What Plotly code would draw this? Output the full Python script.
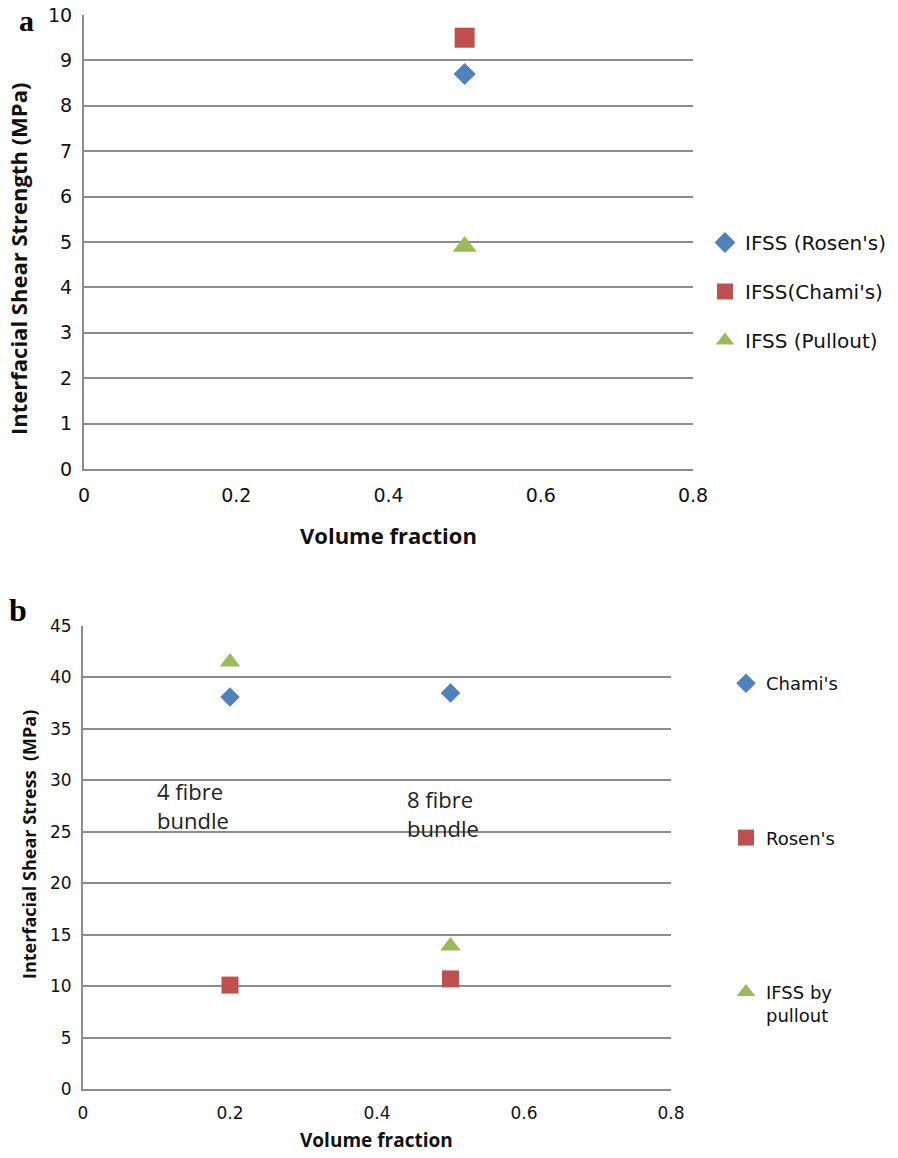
import plotly.graph_objects as go

# ---- data: panel a ----
a_x = [0.5]
a_rosen = [8.7]
a_chami = [9.5]
a_pullout = [4.9]
a_names = ["IFSS (Rosen's)", "IFSS(Chami's)", "IFSS (Pullout)"]

# ---- data: panel b ----
b_x = [0.2, 0.5]
b_chami = [38.1, 38.5]
b_rosen = [10.1, 10.7]
b_pullout = [41.5, 13.9]
b_names = ["Chami's", "Rosen's", "IFSS by<br>pullout"]
b_notes = ["4 fibre<br>bundle", "8 fibre<br>bundle"]
b_note_x = [0.098, 0.438]
b_note_y = [27.6, 26.8]

x_ticks = [0, 0.2, 0.4, 0.6, 0.8]
x_ticktext = ["0", "0.2", "0.4", "0.6", "0.8"]
a_yticks = list(range(0, 11))
b_yticks = list(range(0, 46, 5))

BLUE = "#4F81BD"
RED = "#C0504D"
GREEN = "#9BBB59"
GRID = "#8c8c8c"
TXT = "#111111"
TICKFONT = "DejaVu Sans"
TITLEFONT = "Open Sans"

fig = go.Figure()

# panel a
fig.add_trace(go.Scatter(x=a_x, y=a_rosen, mode="markers", name=a_names[0],
                         marker=dict(symbol="diamond", size=17, color=BLUE, line=dict(width=0)),
                         xaxis="x", yaxis="y", legend="legend", legendgroup="a1"))
fig.add_trace(go.Scatter(x=a_x, y=a_chami, mode="markers", name=a_names[1],
                         marker=dict(symbol="square", size=20, color=RED, line=dict(width=0)),
                         xaxis="x", yaxis="y", legend="legend", legendgroup="a2"))
fig.add_trace(go.Scatter(x=a_x, y=a_pullout, mode="markers", name=a_names[2],
                         marker=dict(symbol="triangle-up", size=21, color=GREEN, line=dict(width=0)),
                         xaxis="x", yaxis="y", legend="legend", legendgroup="a3"))

# panel b
fig.add_trace(go.Scatter(x=b_x, y=b_chami, mode="markers", name=b_names[0],
                         marker=dict(symbol="diamond", size=15, color=BLUE, line=dict(width=0)),
                         xaxis="x2", yaxis="y2", legend="legend2", legendgroup="b1"))
fig.add_trace(go.Scatter(x=b_x, y=b_rosen, mode="markers", name=b_names[1],
                         marker=dict(symbol="square", size=17, color=RED, line=dict(width=0)),
                         xaxis="x2", yaxis="y2", legend="legend2", legendgroup="b2"))
fig.add_trace(go.Scatter(x=b_x, y=b_pullout, mode="markers", name=b_names[2],
                         marker=dict(symbol="triangle-up", size=18, color=GREEN, line=dict(width=0)),
                         xaxis="x2", yaxis="y2", legend="legend2", legendgroup="b3"))


def xaxis_style(domain, anchor, fsize):
    return dict(domain=domain, range=[0, 0.8], tickvals=x_ticks, ticktext=x_ticktext,
                anchor=anchor, automargin=False, showgrid=False, zeroline=False,
                showline=True, linecolor=GRID, linewidth=2, ticks="",
                ticklabelstandoff=8, tickfont=dict(family=TICKFONT, size=fsize, color=TXT))


def yaxis_style(domain, anchor, rng, tickvals, fsize):
    return dict(domain=domain, range=rng, tickvals=tickvals, anchor=anchor,
                automargin=False, showgrid=True, gridcolor=GRID, gridwidth=2,
                zeroline=False, showline=True, linecolor=GRID, linewidth=2, ticks="",
                ticklabelstandoff=6, tickfont=dict(family=TICKFONT, size=fsize, color=TXT))


fig.update_layout(
    template="none",
    width=898, height=1158,
    margin=dict(l=0, r=0, t=0, b=0, autoexpand=False),
    paper_bgcolor="white", plot_bgcolor="white",
    showlegend=True,
    xaxis=xaxis_style([84/898, 693/898], "y", 19),
    yaxis=yaxis_style([1-469/1158, 1-15/1158], "x", [0, 10], a_yticks, 19),
    xaxis2=xaxis_style([83/898, 671/898], "y2", 17),
    yaxis2=yaxis_style([1-1089/1158, 1-626/1158], "x2", [0, 45], b_yticks, 17),
    legend=dict(x=705/898, y=1-223/1158, xanchor="left", yanchor="top",
                font=dict(family=TICKFONT, size=20, color=TXT), traceorder="grouped",
                tracegroupgap=20, bgcolor="rgba(0,0,0,0)", borderwidth=0, itemwidth=30),
    legend2=dict(x=726/898, y=1-665/1158, xanchor="left", yanchor="top",
                 font=dict(family=TICKFONT, size=18, color=TXT), traceorder="grouped",
                 tracegroupgap=128, valign="top", bgcolor="rgba(0,0,0,0)", borderwidth=0,
                 itemwidth=30),
)

# annotations inside panel b
for t, xx, yy in zip(b_notes, b_note_x, b_note_y):
    fig.add_annotation(x=xx, y=yy, xref="x2", yref="y2", text=t, showarrow=False,
                       xanchor="left", yanchor="middle", align="left",
                       font=dict(family=TITLEFONT, size=22, color="#222"))

# axis titles
fig.add_annotation(x=388/898, y=1-535/1158, xref="paper", yref="paper",
                   text="<b>Volume fraction</b>", showarrow=False,
                   xanchor="center", yanchor="middle",
                   font=dict(family=TITLEFONT, size=22, color=TXT))
fig.add_annotation(x=18/898, y=1-259/1158, xref="paper", yref="paper",
                   text="<b>Interfacial Shear Strength (MPa)</b>", showarrow=False,
                   textangle=-90, xanchor="center", yanchor="middle",
                   font=dict(family=TITLEFONT, size=22, color=TXT))
fig.add_annotation(x=376/898, y=1-1140/1158, xref="paper", yref="paper",
                   text="<b>Volume fraction</b>", showarrow=False,
                   xanchor="center", yanchor="middle",
                   font=dict(family=TITLEFONT, size=19, color=TXT))
fig.add_annotation(x=29/898, y=1-845/1158, xref="paper", yref="paper",
                   text="<b>Interfacial Shear Stress  (MPa)</b>", showarrow=False,
                   textangle=-90, xanchor="center", yanchor="middle",
                   font=dict(family=TITLEFONT, size=18, color=TXT))

# panel labels
fig.add_annotation(x=26/898, y=1-2/1158, xref="paper", yref="paper", text="<b>a</b>",
                   showarrow=False, xanchor="center", yanchor="top",
                   font=dict(family="Liberation Serif", size=30, color="#000"))
fig.add_annotation(x=18/898, y=1-610/1158, xref="paper", yref="paper", text="<b>b</b>",
                   showarrow=False, xanchor="center", yanchor="middle",
                   font=dict(family="Liberation Serif", size=32, color="#000"))

fig.write_html("out.html", config={"displayModeBar": False},
               post_script="document.body.style.margin='0px';")
